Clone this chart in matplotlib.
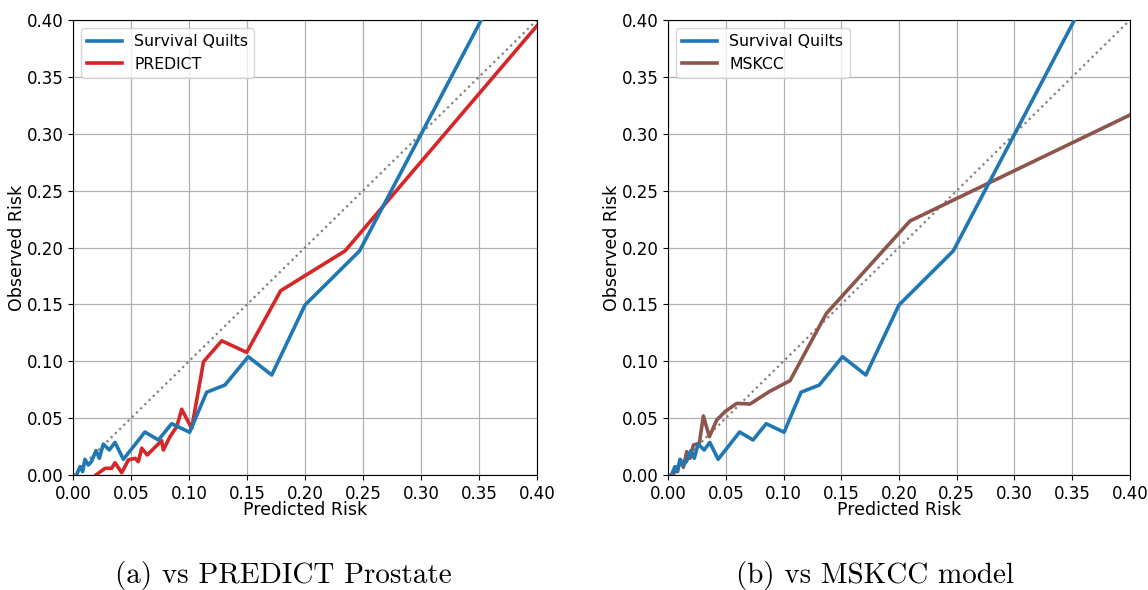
import numpy as np
import matplotlib
matplotlib.use("Agg")
import matplotlib.pyplot as plt

# Survival Quilts calibration curve (same in both panels)
sq_x = [0.003, 0.006, 0.0083, 0.0103, 0.0132, 0.016, 0.0198, 0.0227, 0.0261, 0.0313, 0.0362,
        0.0434, 0.062, 0.0736, 0.085, 0.1005, 0.1152, 0.131, 0.1511, 0.1713, 0.2, 0.247, 0.37]
sq_y = [0.0, 0.0073, 0.003, 0.0138, 0.0088, 0.012, 0.0214, 0.0147, 0.0272, 0.022, 0.0287,
        0.0138, 0.0378, 0.0308, 0.0451, 0.0376, 0.0728, 0.0791, 0.104, 0.0879, 0.1495, 0.197, 0.435]

# PREDICT Prostate
pr_x = [0.0198, 0.0276, 0.0333, 0.0362, 0.042, 0.0477, 0.0534, 0.0563, 0.0592, 0.064, 0.0764,
        0.0779, 0.0836, 0.0894, 0.0937, 0.1023, 0.1125, 0.1282, 0.1497, 0.179, 0.2345, 0.40]
pr_y = [0.0, 0.0059, 0.0059, 0.0108, 0.002, 0.0132, 0.0147, 0.0117, 0.0235, 0.0176, 0.0302,
        0.022, 0.0337, 0.0425, 0.0578, 0.041, 0.0996, 0.118, 0.1078, 0.162, 0.197, 0.395]

# MSKCC model
ms_x = [0.0046, 0.006, 0.0075, 0.011, 0.0133, 0.0162, 0.019, 0.022, 0.0271, 0.0306, 0.0358,
        0.0422, 0.0494, 0.0595, 0.071, 0.0876, 0.1056, 0.1371, 0.2095, 0.40]
ms_y = [0.0, 0.0068, 0.003, 0.0132, 0.0068, 0.0205, 0.0147, 0.0264, 0.0279, 0.0519, 0.0337,
        0.0484, 0.0557, 0.063, 0.0624, 0.0733, 0.0829, 0.142, 0.2233, 0.3165]

ticks = np.arange(0, 0.401, 0.05)

fig = plt.figure(figsize=(11.48, 5.9), dpi=100)
ax1 = fig.add_axes([0.0636, 0.1949, 0.4042, 0.7712])
ax2 = fig.add_axes([0.5819, 0.1949, 0.4024, 0.7712])

panels = [
    (ax1, pr_x, pr_y, "PREDICT", "#d62728"),
    (ax2, ms_x, ms_y, "MSKCC", "#8c564b"),
]

for ax, mx, my, name, col in panels:
    ax.plot([0, 1], [0, 1], ":", color="gray", lw=1.6, zorder=1)
    ax.plot(sq_x, sq_y, color="#1f77b4", lw=2.6, label="Survival Quilts", zorder=3)
    ax.plot(mx, my, color=col, lw=2.6, label=name, zorder=2)
    ax.set_xlim(0, 0.4)
    ax.set_ylim(0, 0.4)
    ax.set_xticks(ticks)
    ax.set_yticks(ticks)
    ax.set_xticklabels([f"{t:.2f}" for t in ticks])
    ax.set_yticklabels([f"{t:.2f}" for t in ticks])
    ax.tick_params(labelsize=12)
    ax.grid(True, color="#b0b0b0", lw=0.9)
    ax.set_axisbelow(True)
    ax.set_xlabel("Predicted Risk", fontsize=12.5, labelpad=-1)
    ax.set_ylabel("Observed Risk", fontsize=12.5, labelpad=0)
    ax.legend(loc="upper left", fontsize=11.3, handlelength=2.2)

fig.text(0.247, 0.012, "(a) vs PREDICT Prostate", family="cmr10", fontsize=21, ha="center")
fig.text(0.762, 0.012, "(b) vs MSKCC model", family="cmr10", fontsize=21, ha="center")

fig.savefig("out.png", dpi=100)
